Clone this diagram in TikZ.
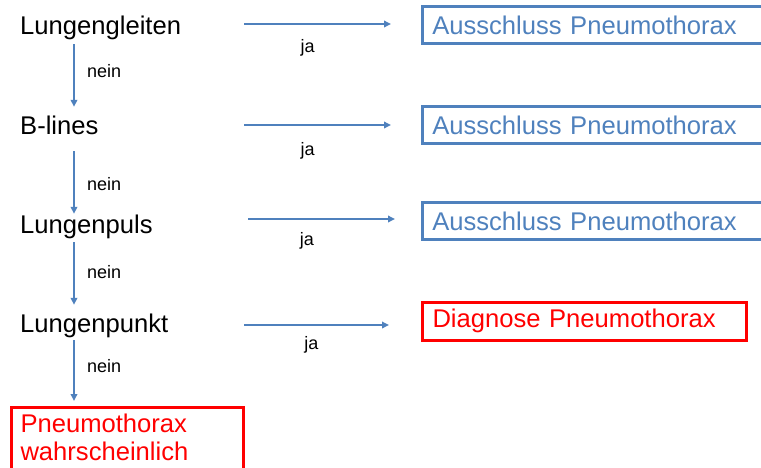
\documentclass[tikz,border=0pt]{standalone}
\usepackage{fontspec}
\setmainfont{Liberation Sans}
\usetikzlibrary{arrows.meta}
\definecolor{pptblue}{HTML}{4F81BD}
\definecolor{pptred}{HTML}{FF0000}

\begin{document}
\begin{tikzpicture}[x=1pt, y=-1pt,
    frage/.style={anchor=base west, inner sep=0pt, text height=18pt, text depth=5pt,
        font=\fontsize{25.6}{27}\selectfont},
    antwort/.style={inner sep=0pt, font=\fontsize{18}{20}\selectfont},
    pfeil/.style={draw=pptblue, line width=2pt, -{Triangle[length=7pt,width=6.5pt]}},
    ausschluss/.style={draw=pptblue, line width=2.5pt, text=pptblue, anchor=west,
        minimum height=37pt, text width=400pt, align=left, inner xsep=10pt,
        font=\fontsize{25.6}{27}\selectfont},
    befund/.style={draw=pptred, line width=3pt, text=pptred, align=left,
        inner xsep=10pt, inner ysep=6pt, font=\fontsize{25.6}{28}\selectfont}]

                \clip (0,0) rectangle (761,467);

                % Fragen
                \node[frage] (gleit) at (20,34) {Lungengleiten};
                \node[frage] (blines) at (20,134) {B-lines};
                \node[frage] (puls) at (20,233) {Lungenpuls};
                \node[frage] (punkt) at (20,332) {Lungenpunkt};

                % Ergebnisse
                \node[ausschluss] (aus1) at (421,25) {Ausschluss Pneumothorax};
                \node[ausschluss] (aus2) at (421,125) {Ausschluss Pneumothorax};
                \node[ausschluss] (aus3) at (421,221) {Ausschluss Pneumothorax};
                \node[befund, anchor=west, text width=304pt, minimum height=38pt] (diag) at (421,321) {Diagnose Pneumothorax};
                \node[befund, anchor=north west, text width=214pt, inner xsep=9pt] (wahr) at (10,406) {Pneumothorax\\wahrscheinlich\strut};

                % Nein-Pfeile
                \coordinate (achse) at (74,0);
                \draw[pfeil, shorten <=5pt, shorten >=9pt] (achse |- gleit.south) -- (achse |- blines.north)
                    node[antwort, midway, right=12pt, yshift=6pt] {nein};
                \draw[pfeil, shorten <=12pt, shorten >=1pt] (achse |- blines.south) -- (achse |- puls.north)
                    node[antwort, midway, right=12pt, yshift=-7pt] {nein};
                \draw[pfeil, shorten <=4pt, shorten >=9pt] (achse |- puls.south) -- (achse |- punkt.north)
                    node[antwort, midway, right=12pt, yshift=4pt] {nein};
                \draw[pfeil, shorten <=3pt, shorten >=5pt] (achse |- punkt.south) -- (achse |- wahr.north)
                    node[antwort, midway, right=12pt, yshift=6pt] {nein};

                % Ja-Pfeile
                \coordinate (ja1) at (244,24);
                \coordinate (ja2) at (244,125);
                \coordinate (ja3) at (248,219);
                \coordinate (ja4) at (244,325);
                \draw[pfeil, shorten >=30pt] (ja1) -- (ja1 -| aus1.west)
                    node[antwort, pos=.36, below=14pt] {ja};
                \draw[pfeil, shorten >=30pt] (ja2) -- (ja2 -| aus2.west)
                    node[antwort, pos=.36, below=16pt] {ja};
                \draw[pfeil, shorten >=26pt] (ja3) -- (ja3 -| aus3.west)
                    node[antwort, pos=.34, below=12pt] {ja};
                \draw[pfeil, shorten >=32pt] (ja4) -- (ja4 -| diag.west)
                    node[antwort, pos=.38, below=10pt] {ja};

\end{tikzpicture}
\end{document}
